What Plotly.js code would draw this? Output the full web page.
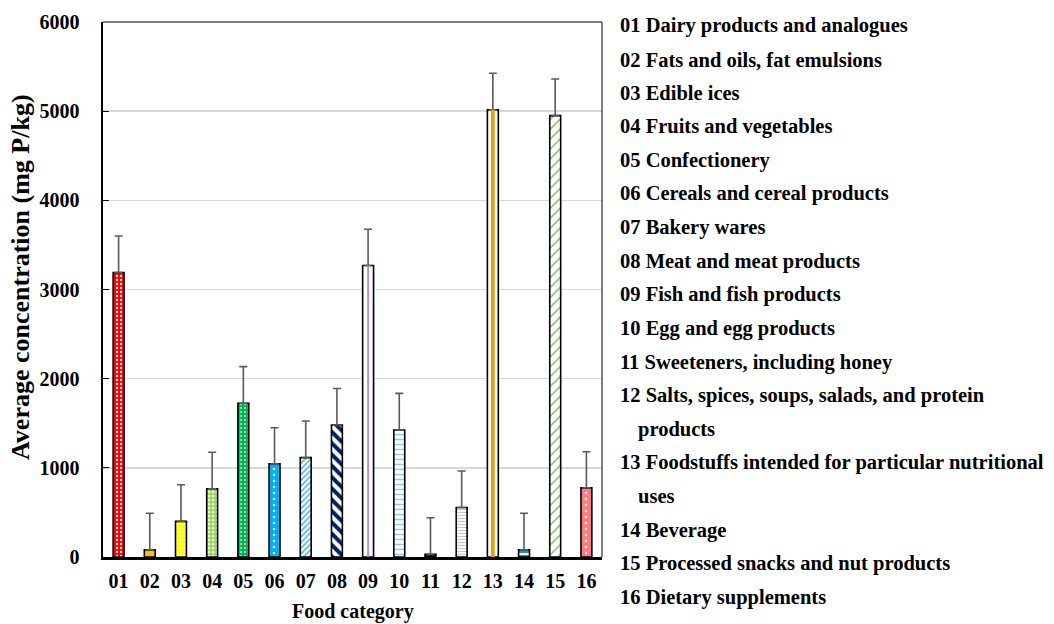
<!DOCTYPE html>
<html>
<head>
<meta charset="utf-8">
<script src="https://cdn.plot.ly/plotly-3.0.1.min.js"></script>
<style>
  html, body { margin: 0; padding: 0; background: #ffffff; }
  #chart { width: 1054px; height: 624px; }
</style>
</head>
<body>
<div id="chart"></div>
<script>
// Food category codes and names
const codes = ['01','02','03','04','05','06','07','08','09','10','11','12','13','14','15','16'];
const names = [
  'Dairy products and analogues',
  'Fats and oils, fat emulsions',
  'Edible ices',
  'Fruits and vegetables',
  'Confectionery',
  'Cereals and cereal products',
  'Bakery wares',
  'Meat and meat products',
  'Fish and fish products',
  'Egg and egg products',
  'Sweeteners, including honey',
  'Salts, spices, soups, salads, and protein|products',
  'Foodstuffs intended for particular nutritional|uses',
  'Beverage',
  'Processed snacks and nut products',
  'Dietary supplements'
];

// Average concentration (mg P/kg) and error
const means  = [3190, 80, 400, 765, 1725, 1045, 1115, 1480, 3270, 1425, 30, 555, 5015, 80, 4950, 775];
const errors = [410, 410, 410, 410, 410, 405, 410, 410, 405, 410, 410, 410, 410, 410, 410, 405];

const yTicks = [0, 1000, 2000, 3000, 4000, 5000, 6000];

// Fill styling per category
const fillColor = ['#FF0000','#FFC000','#FFFF00','#92D050','#00B050','#00B0F0','#FFFFFF','#FFFFFF',
                   '#FFFFFF','#FFFFFF','#000000','#FFFFFF','#FFFFFF','#FFFFFF','#FFFFFF','#FF7C80'];
const patShape  = ['.','','.','.','.','.','/','\\','','-','','-','','-','/','.'];
const patFg     = ['#FFFFFF','#FFC000','#FFFFB0','#E8F6DC','#80E0A8','#FFFFFF','#4FB6E8','#002060',
                   '#FFFFFF','#8FC8F0','#000000','#C8C8C8','#FFFFFF','#00A0E0','#70AD47','#FFFFFF'];
const patSize   = [4, 8, 4, 4, 4, 6, 4, 8, 8, 5, 8, 3, 8, 4, 7, 6];
const patSolid  = [0.25, 0.3, 0.3, 0.45, 0.3, 0.12, 0.4, 0.5, 0.3, 0.3, 0.3, 0.4, 0.3, 0.5, 0.18, 0.12];

// Centre stripe for categories 09 and 13
const stripeColor = {'09': '#B88AD8', '13': '#E3A00C'};
const stripeWidth = {'09': 0.06, '13': 0.12};

const font = 'Liberation Serif, Times New Roman, serif';

// One bar trace per category so each can carry its own fill pattern
const traces = codes.map((c, i) => {
  const marker = {color: fillColor[i], line: {color: '#000000', width: 1.6}};
  if (patShape[i]) {
    marker.pattern = {
      shape: patShape[i], fgcolor: patFg[i], bgcolor: fillColor[i],
      size: patSize[i], solidity: patSolid[i], fillmode: 'replace'
    };
  }
  return {
    type: 'bar', x: [c], y: [means[i]], width: 0.35, marker: marker,
    error_y: {type: 'data', array: [errors[i]], arrayminus: [0], symmetric: false,
              color: '#5a5a5a', thickness: 1.6, width: 4},
    hoverinfo: 'x+y', showlegend: false
  };
});

codes.forEach((c, i) => {
  if (!stripeColor[c]) return;
  traces.push({
    type: 'bar', x: [c], y: [means[i]], width: stripeWidth[c],
    marker: {color: stripeColor[c], line: {width: 0}},
    hoverinfo: 'skip', showlegend: false
  });
});

// Category list on the right
const plotL = 103, plotR = 602, plotT = 22, plotB = 557;
const pw = plotR - plotL, ph = plotB - plotT;
const px = v => (v - plotL) / pw;
const py = v => (plotB - v) / ph;

const annotations = [];
let line = 0;
codes.forEach((c, i) => {
  const parts = names[i].split('|');
  parts.forEach((p, j) => {
    annotations.push({
      xref: 'paper', yref: 'paper',
      x: px(j === 0 ? 618 : 636), y: py(26 + 33.6 * line),
      xanchor: 'left', yanchor: 'middle',
      text: j === 0 ? c + ' ' + p : p,
      showarrow: false,
      font: {family: font, size: 20.5, color: '#000000', weight: 'bold'}
    });
    line++;
  });
});

// Axis titles
annotations.push({
  xref: 'paper', yref: 'paper', x: px(20), y: py(277),
  xanchor: 'center', yanchor: 'middle', textangle: -90,
  text: 'Average concentration (mg P/kg)', showarrow: false,
  font: {family: font, size: 26, color: '#000000', weight: 'bold'}
});
annotations.push({
  xref: 'paper', yref: 'paper', x: 0.5, y: py(611),
  xanchor: 'center', yanchor: 'middle',
  text: 'Food category', showarrow: false,
  font: {family: font, size: 20, color: '#000000', weight: 'bold'}
});

const layout = {
  width: 1054, height: 624,
  margin: {l: plotL, r: 1054 - plotR, t: plotT, b: 624 - plotB},
  paper_bgcolor: '#ffffff', plot_bgcolor: '#ffffff',
  barmode: 'overlay',
  font: {family: font, size: 18, color: '#000000'},
  xaxis: {
    type: 'category',
    categoryorder: 'array', categoryarray: codes,
    showline: true, linecolor: '#000000', linewidth: 2.5,
    ticks: '', showgrid: false, zeroline: false,
    tickfont: {family: font, size: 20, color: '#000000', weight: 'bold'},
    ticklabelstandoff: 4,
    range: [-0.5, 15.5]
  },
  yaxis: {
    range: [0, 6000],
    tickvals: yTicks,
    ticktext: yTicks.map(String),
    showline: true, linecolor: '#000000', linewidth: 2.5,
    ticks: 'inside', ticklen: 6, tickcolor: '#000000', tickwidth: 1,
    showgrid: true, gridcolor: '#d9d9d9', gridwidth: 1.5,
    zeroline: false,
    tickfont: {family: font, size: 20, color: '#000000', weight: 'bold'},
    ticklabelstandoff: 17
  },
  shapes: [
    {type: 'line', xref: 'paper', yref: 'paper', x0: 0, x1: 1, y0: 1, y1: 1,
     line: {color: '#000000', width: 1}},
    {type: 'line', xref: 'paper', yref: 'paper', x0: 1, x1: 1, y0: 0, y1: 1,
     line: {color: '#000000', width: 1}}
  ],
  annotations: annotations
};

Plotly.newPlot('chart', traces, layout, {displayModeBar: false, staticPlot: true});
</script>
</body>
</html>
